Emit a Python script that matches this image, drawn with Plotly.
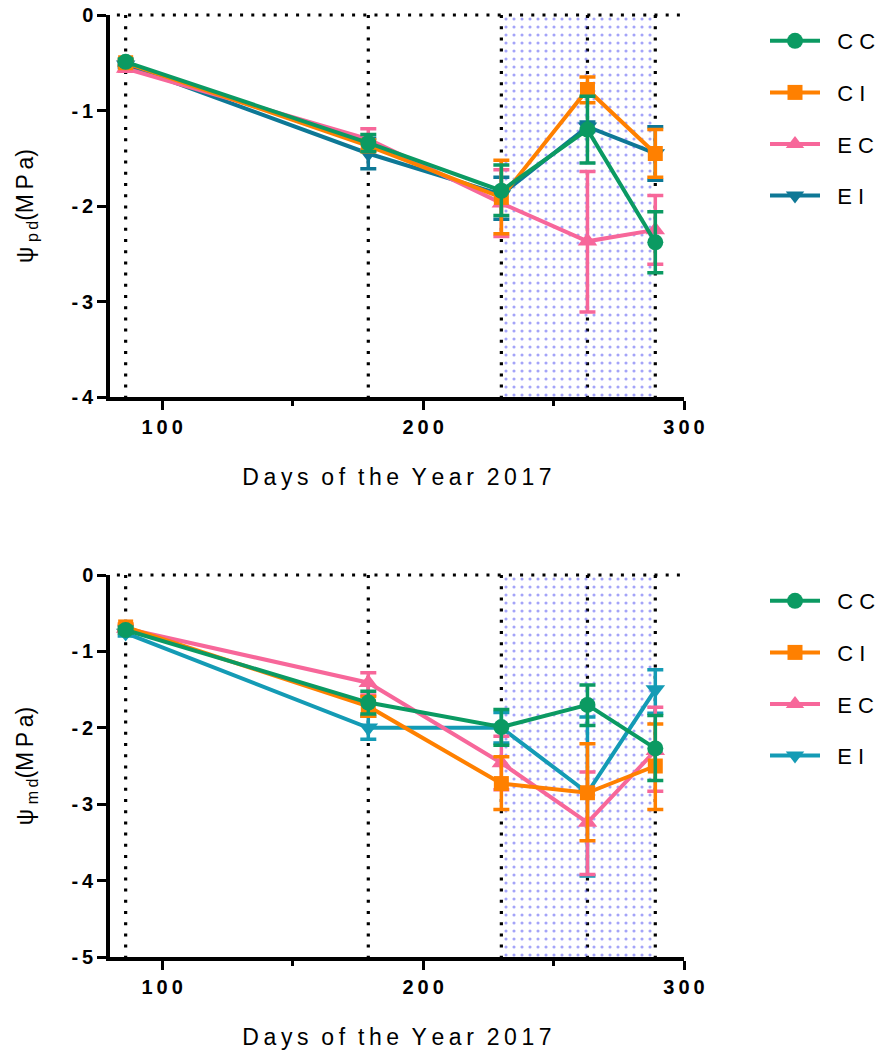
import plotly.graph_objects as go

# Sampling days (day of year 2017)
days = [86, 179, 230, 263, 289]
shade_start, shade_end = 230, 289

series_names = ["CC", "CI", "EC", "EI"]

# Pre-dawn water potential (MPa)
pd_CC = [-0.49, -1.34, -1.84, -1.20, -2.38]
pd_CC_up = [0.03, 0.09, 0.27, 0.35, 0.32]
pd_CC_dn = [0.03, 0.09, 0.26, 0.35, 0.32]
pd_CI = [-0.50, -1.37, -1.91, -0.78, -1.45]
pd_CI_up = [0.03, 0.06, 0.39, 0.13, 0.25]
pd_CI_dn = [0.03, 0.06, 0.38, 0.14, 0.25]
pd_EC = [-0.56, -1.30, -1.97, -2.37, -2.25]
pd_EC_up = [0.03, 0.11, 0.35, 0.73, 0.36]
pd_EC_dn = [0.03, 0.11, 0.35, 0.74, 0.36]
pd_EI = [-0.52, -1.45, -1.88, -1.17, -1.45]
pd_EI_up = [0.03, 0.16, 0.18, 0.05, 0.28]
pd_EI_dn = [0.03, 0.16, 0.26, 0.05, 0.28]

# Midday water potential (MPa)
md_CC = [-0.72, -1.67, -1.99, -1.70, -2.27]
md_CC_up = [0.04, 0.15, 0.23, 0.26, 0.43]
md_CC_dn = [0.04, 0.15, 0.24, 0.27, 0.42]
md_CI = [-0.68, -1.72, -2.73, -2.85, -2.50]
md_CI_up = [0.04, 0.13, 0.35, 0.64, 0.55]
md_CI_dn = [0.04, 0.13, 0.34, 0.63, 0.57]
md_EC = [-0.70, -1.41, -2.46, -3.24, -2.30]
md_EC_up = [0.04, 0.13, 0.35, 0.66, 0.57]
md_EC_dn = [0.04, 0.16, 0.35, 0.68, 0.53]
md_EI = [-0.76, -2.00, -2.00, -2.85, -1.50]
md_EI_up = [0.04, 0.15, 0.20, 0.99, 0.26]
md_EI_dn = [0.04, 0.15, 0.20, 1.09, 0.31]

colors_top = {"CC": "#0B9A62", "CI": "#FF8000", "EC": "#F7679A", "EI": "#0E7896"}
colors_bot = {"CC": "#0B9A62", "CI": "#FF8000", "EC": "#F7679A", "EI": "#149BB5"}
symbols = {"CC": "circle", "CI": "square", "EC": "triangle-up", "EI": "triangle-down"}
msize = {"CC": 16, "CI": 15, "EC": 17, "EI": 17}

FONT = "Liberation Sans, Arial, sans-serif"
TS = "\u2009"  # thin space used for letter spacing
NB = "\u00a0"


def spaced(s):
    return TS.join(s)


top = {
    "CC": (pd_CC, pd_CC_up, pd_CC_dn),
    "CI": (pd_CI, pd_CI_up, pd_CI_dn),
    "EC": (pd_EC, pd_EC_up, pd_EC_dn),
    "EI": (pd_EI, pd_EI_up, pd_EI_dn),
}
bot = {
    "CC": (md_CC, md_CC_up, md_CC_dn),
    "CI": (md_CI, md_CI_up, md_CI_dn),
    "EC": (md_EC, md_EC_up, md_EC_dn),
    "EI": (md_EI, md_EI_up, md_EI_dn),
}

fig = go.Figure()

panels = [
    ("x", "y", top, colors_top, "legend", -4),
    ("x2", "y2", bot, colors_bot, "legend2", -5),
]

for xa, ya, data, cols, leg, ymin in panels:
    # dotted-pattern shaded period
    fig.add_trace(go.Scatter(
        x=[shade_start, shade_end, shade_end, shade_start, shade_start],
        y=[0, 0, ymin, ymin, 0],
        xaxis=xa, yaxis=ya, mode="none", fill="toself",
        fillcolor="rgba(0,0,0,0)",
        fillpattern=dict(shape=".", fgcolor="#4A4AF2", bgcolor="rgba(0,0,0,0)",
                         size=8, solidity=0.12),
        showlegend=False, hoverinfo="skip",
    ))
    # draw order: EI at the bottom, CC on top
    for rank, name in zip([4, 3, 2, 1], ["EI", "EC", "CI", "CC"]):
        vals, up, dn = data[name]
        fig.add_trace(go.Scatter(
            x=days, y=vals, xaxis=xa, yaxis=ya,
            mode="lines+markers", name=NB + NB + name[0] + " " + name[1],
            legend=leg, legendgroup=leg + name, legendrank=rank,
            line=dict(color=cols[name], width=4),
            marker=dict(symbol=symbols[name], size=msize[name], color=cols[name],
                        line=dict(width=0)),
            error_y=dict(type="data", symmetric=False, array=up, arrayminus=dn,
                         color=cols[name], thickness=3.5, width=8),
        ))

DOT = "3px,8.2px"
shapes = []
H = 1052
W = 879
top_px, bot_px = 15, 957
plot_h = bot_px - top_px


def frac(p):
    return (bot_px - p) / plot_h


for xa, ya, ymin, ytop in [("x", "y", -4, 1.0), ("x2", "y2", -5, frac(575))]:
    for d in days:
        shapes.append(dict(type="line", xref=xa, yref=ya, x0=d, x1=d, y0=0, y1=ymin,
                           line=dict(color="black", width=3.2, dash=DOT),
                           layer="below"))
    # zero line along the top edge (paper y so it is not clipped)
    shapes.append(dict(type="line", xref="paper", yref="paper", x0=0.012, x1=1.0,
                       y0=ytop, y1=ytop,
                       line=dict(color="black", width=3.2, dash=DOT),
                       layer="below"))

tick_font = dict(family=FONT, size=20, color="black")
title_font = dict(family=FONT, size=23, color="black")

xticks = [100, 200, 300]
xtick_text = ["<b>" + spaced(str(v)) + "</b>" for v in xticks]

xaxis_common = dict(
    range=[80, 300], showgrid=False, zeroline=False, automargin=False,
    showline=True, linecolor="black", linewidth=3.5,
    ticks="outside", ticklen=9, tickwidth=3, tickcolor="black",
    tickmode="array", tickvals=xticks, ticktext=xtick_text,
    tickfont=tick_font,
    minor=dict(dtick=50, tick0=0, ticks="outside", ticklen=5, tickwidth=3,
               tickcolor="black"),
    title=dict(text=spaced("Days") + "  " + spaced("of") + "  " + spaced("the") + "  "
               + spaced("Year") + "  " + spaced("2017"), font=title_font, standoff=33),
)


def yaxis_common(ymin, sub):
    return dict(
        range=[ymin, 0], showgrid=False, zeroline=False, automargin=False,
        showline=True, linecolor="black", linewidth=3.5,
        ticks="outside", ticklen=9, tickwidth=3, tickcolor="black",
        tickmode="array", tickvals=list(range(ymin, 1)),
        ticktext=["<b>" + (str(v) if v == 0 else "-" + TS + str(-v)) + "</b>"
                  for v in range(ymin, 1)],
        tickfont=tick_font,
        title=dict(text="ψ" + TS + "<sub>" + spaced(sub) + "</sub>(" + spaced("MPa") + ")",
                   font=title_font, standoff=32),
    )


legend_common = dict(
    font=dict(family=FONT, size=22, color="black"),
    bgcolor="rgba(0,0,0,0)", borderwidth=0,
    tracegroupgap=20, itemwidth=50, xanchor="left", yanchor="top",
    traceorder="grouped", xref="container", yref="container",
)

fig.update_layout(
    width=W, height=H,
    margin=dict(l=110, r=W - 684, t=top_px, b=H - bot_px, autoexpand=False),
    plot_bgcolor="white", paper_bgcolor="white",
    xaxis=dict(**xaxis_common, anchor="y", domain=[0, 1]),
    yaxis=dict(**yaxis_common(-4, "pd"), anchor="x", domain=[frac(397), 1]),
    xaxis2=dict(**xaxis_common, anchor="y2", domain=[0, 1]),
    yaxis2=dict(**yaxis_common(-5, "md"), anchor="x2", domain=[0, frac(575)]),
    legend=dict(**legend_common, x=765 / W, y=1 - 20 / H),
    legend2=dict(**legend_common, x=765 / W, y=1 - 580 / H),
    shapes=shapes,
)

fig.write_html("out.html")
